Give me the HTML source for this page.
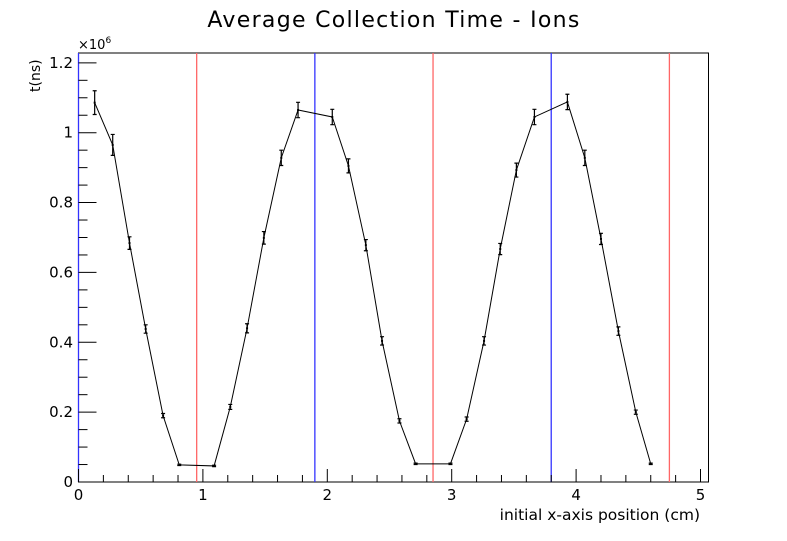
<!DOCTYPE html>
<html><head><meta charset="utf-8"><style>
body{margin:0;background:#fff}
svg text{font-family:"DejaVu Sans","Liberation Sans",sans-serif}
</style></head><body>
<svg id="chart" width="787" height="536" xmlns="http://www.w3.org/2000/svg">
<rect width="787" height="536" fill="#fff"/>
<text x="394" y="27" font-size="22" letter-spacing="1.3" text-anchor="middle">Average Collection Time - Ions</text>
<rect x="78.5" y="53" width="630" height="429" fill="none" stroke="#000" stroke-width="1"/>
<g id="vlines"></g>
<g id="axes"></g>
<g id="series"></g>
<text x="78" y="49" font-size="13">×10<tspan font-size="9" dy="-6">6</tspan></text>
<text transform="translate(40,92) rotate(-90)" font-size="14">t(ns)</text>
<text x="700" y="520" font-size="15.5" text-anchor="end">initial x-axis position (cm)</text>
</svg>
<script>
const xs=[0.13,0.275,0.41,0.54,0.68,0.81,1.09,1.22,1.355,1.49,1.63,1.765,2.04,2.17,2.31,2.44,2.58,2.71,2.99,3.12,3.26,3.39,3.52,3.665,3.93,4.07,4.2,4.34,4.48,4.6];
const ys=[1.086,0.965,0.684,0.438,0.19,0.049,0.046,0.215,0.44,0.699,0.928,1.065,1.045,0.905,0.678,0.404,0.175,0.052,0.052,0.18,0.404,0.667,0.893,1.045,1.088,0.928,0.696,0.432,0.2,0.052];
const errs=[0.034,0.03,0.018,0.012,0.006,0.002,0.002,0.007,0.013,0.018,0.022,0.022,0.022,0.02,0.016,0.012,0.006,0.002,0.002,0.006,0.012,0.016,0.02,0.022,0.022,0.022,0.016,0.012,0.006,0.002];
const redLines=[0.95,2.85,4.75];
const blueLines=[0,1.9,3.8];
const xTicks=[0,1,2,3,4,5];
const yTicks=[0,0.2,0.4,0.6,0.8,1,1.2];
const yTickLabels=["0","0.2","0.4","0.6","0.8","1","1.2"];
const X=v=>78.5+v*124.4, Y=v=>482-v*349.3;
const NS="http://www.w3.org/2000/svg";
function mk(tag,attrs,parent){const e=document.createElementNS(NS,tag);for(const k in attrs)e.setAttribute(k,attrs[k]);document.getElementById(parent).appendChild(e);return e;}
redLines.forEach(v=>{const l=mk('line',{x1:X(v),x2:X(v),y1:53,y2:482,stroke:'#ff6666','stroke-width':1.3},'vlines');

});
blueLines.forEach(v=>{const l=mk('line',{x1:X(v),x2:X(v),y1:53,y2:482,stroke:'#3333ff','stroke-width':1.3},'vlines');

});
for(let i=0;i<=26;i++){const v=i*0.2;const major=i%5===0;const x=X(v);if(x>708)break;
const t=mk('line',{x1:x,x2:x,y1:482,y2:482-(major?13:7),stroke:'#000'},'axes');

}
xTicks.forEach(v=>{const t=mk('text',{x:X(v),y:500,'font-size':15,'text-anchor':'middle'},'axes');t.textContent=String(v);

});
for(let i=0;i<=24;i++){const v=i*0.05;const major=i%4===0;const y=Y(v);
const t=mk('line',{x1:78.5,x2:78.5+(major?18:9),y1:y,y2:y,stroke:'#000'},'axes');

}
yTicks.forEach((v,i)=>{const t=mk('text',{x:73,y:Y(v)+5,'font-size':15,'text-anchor':'end'},'axes');t.textContent=yTickLabels[i];

});
const pl=mk('polyline',{points:xs.map((x,i)=>X(x)+','+Y(ys[i])).join(' '),fill:'none',stroke:'#000','stroke-width':1},'series');


xs.forEach((x,i)=>{const cx=X(x),t=Y(ys[i]+errs[i]),b=Y(ys[i]-errs[i]);
const g=mk('path',{d:`M${cx},${t}V${b}M${cx-2},${t}H${cx+2}M${cx-2},${b}H${cx+2}`,stroke:'#000','stroke-width':1.2,fill:'none'},'series');


const p=mk('rect',{x:cx-1,y:Y(ys[i])-1,width:2,height:2,fill:'#000'},'series');

});
</script>
</body></html>
